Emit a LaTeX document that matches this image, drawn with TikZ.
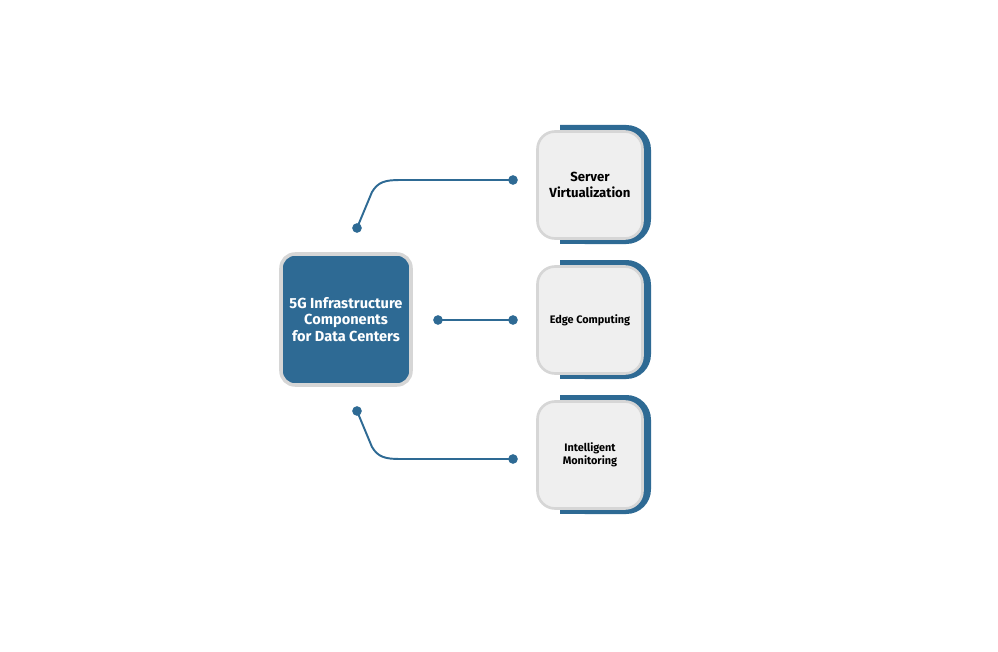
\documentclass[tikz,border=0pt]{standalone}
\usepackage{fontspec}
\setmainfont{Fira Sans}
\definecolor{mblue}{HTML}{2E6A94}
\definecolor{lgray}{HTML}{EFEFEF}
\definecolor{bgray}{HTML}{D6D6D6}
\begin{document}
\begin{tikzpicture}[x=0.02cm,y=-0.02cm,
  card/.style={fill=lgray,draw=bgray,line width=1.5pt,rounded corners=10,inner sep=0pt},
  conn/.style={draw=mblue,line width=1.1pt},
  dot/.style={circle,fill=mblue,inner sep=0pt,minimum size=5.5pt}]
\useasboundingbox (0,0) rectangle (998,652);
% center
\node[fill=mblue,draw=bgray,line width=2pt,rounded corners=8,inner sep=0pt,minimum width=130*0.02cm,minimum height=131*0.02cm,
  text=white,font=\bfseries\fontsize{8.3}{9.6}\selectfont,align=center] (c) at (346,319.5)
  {5G Infrastructure\\Components\\for Data Centers};
% right boxes
\foreach \y/\n/\t/\f/\g in {125/a/{Server\\Virtualization}/7.5/8.8, 260/b/{Edge Computing}/6.2/7.5, 395/d/{Intelligent\\Monitoring}/6.2/7.5}{
  \fill[mblue,rounded corners=14] (560,\y) -- (651,\y) -- (651,\y+119) -- (560,\y+119) [sharp corners]-- cycle;
  \fill[mblue] (560,\y) rectangle (600,\y+119);
  \node[card,minimum width=105*0.02cm,minimum height=107*0.02cm,align=center,font=\bfseries\fontsize{\f}{\g}\selectfont] (\n) at (590,\y+60) {\t};
}
\node[dot] (a1) at (357,228) {};
\node[dot] (a2) at (513,180) {};
\node[dot] (b1) at (438,320) {};
\node[dot] (b2) at (513,320) {};
\node[dot] (d1) at (357,411) {};
\node[dot] (d2) at (513,459) {};
\draw[conn] (a1.center) -- (372,192) .. controls (378,182) and (385,180) .. (400,180) -- (a2.center);
\draw[conn] (b1.center) -- (b2.center);
\draw[conn] (d1.center) -- (372,447) .. controls (378,457) and (385,459) .. (400,459) -- (d2.center);
\end{tikzpicture}
\end{document}
